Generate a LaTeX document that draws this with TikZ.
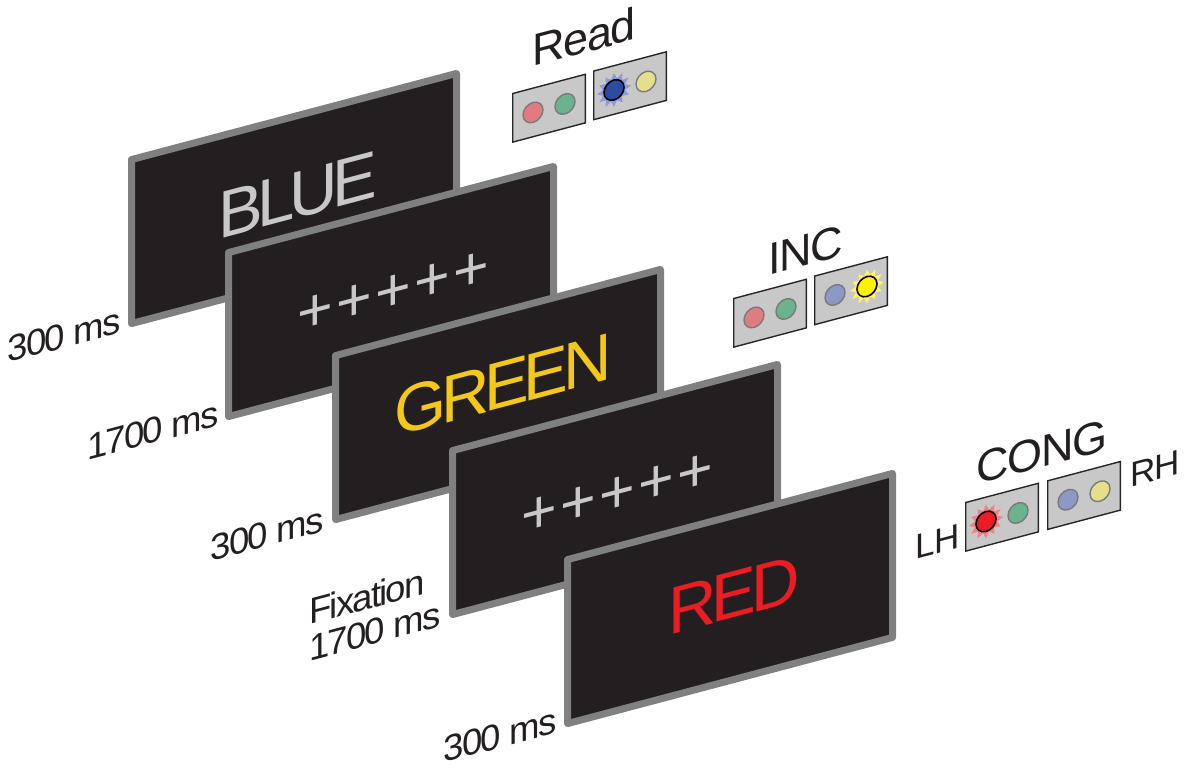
\documentclass[tikz,border=0pt]{standalone}
\usepackage{fontspec}
\setmainfont{Liberation Sans}
\newfontfamily\wordfont[LetterSpace=-8]{Liberation Sans}
\newfontfamily\labelfont[LetterSpace=-5]{Liberation Sans}
\newfontfamily\titlefont[LetterSpace=-3]{Liberation Sans}
\usetikzlibrary{shapes.geometric}
\definecolor{scr}{HTML}{231F20}
\definecolor{scrborder}{HTML}{808080}
\definecolor{wordgray}{HTML}{C8C8C8}
\definecolor{wordyellow}{HTML}{F3C81A}
\definecolor{wordred}{HTML}{ED1C24}
\definecolor{ink}{HTML}{231F20}
\definecolor{panel}{HTML}{C8C8C8}
\definecolor{btnred}{HTML}{E07C80}
\definecolor{btngreen}{HTML}{6CB28E}
\definecolor{btnblue}{HTML}{8E98C4}
\definecolor{btnyellow}{HTML}{E5DF8B}
\definecolor{litblue}{HTML}{2B4CA0}
\definecolor{lityellow}{HTML}{FFF200}
\definecolor{litred}{HTML}{ED1C24}
\definecolor{glowblue}{HTML}{8C9BD6}
\definecolor{glowyellow}{HTML}{FFF36B}
\definecolor{glowred}{HTML}{F28088}
\definecolor{btnedge}{HTML}{7A7A7A}
\begin{document}
\begin{tikzpicture}[x=0.5pt,y=-0.5pt,
  screenbox/.style={draw=scrborder, fill=scr, line width=3.5pt, line join=round,
    minimum width=162.5pt, minimum height=82pt, inner sep=0pt, transform shape},
  word/.style={font=\wordfont\fontsize{33.5}{40}\selectfont, anchor=base, inner sep=0pt, transform shape},
  plusrow/.style={font=\fontsize{30.5}{36}\selectfont, text=wordgray, anchor=base, inner sep=0pt, transform shape},
  dur/.style={font=\labelfont\fontsize{18.3}{18}\selectfont, text=ink, anchor=base east, inner sep=0pt, transform shape},
  ttl/.style={font=\titlefont\fontsize{22.5}{26}\selectfont, text=ink, anchor=base, inner sep=0pt, transform shape},
  hand/.style={font=\titlefont\fontsize{17.5}{20}\selectfont, text=ink, inner sep=0pt, transform shape},
  pbox/.style={draw=black!85, fill=panel, line width=0.7pt, minimum width=36.3pt,
    minimum height=24.3pt, inner sep=0pt, anchor=north west, transform shape},
  btn/.style={circle, draw=btnedge, line width=0.7pt, minimum size=10pt, inner sep=0pt, transform shape},
  litbtn/.style={circle, draw=black, line width=0.8pt, minimum size=10pt, inner sep=0pt, transform shape},
  glow/.style={star, star points=12, star point ratio=1.5, minimum size=17pt, inner sep=0pt, transform shape}
]
\useasboundingbox (0,0) rectangle (1200,778);

% screen 1
\begin{scope}[shift={(128,157)}, yslant=0.265]
  \node[screenbox] (s1) at (166,85.5) {};
  \node[word, text=wordgray] (w1) at (170,106) {BLUE};
  \node[dur] (d1) at (-7,174) {300 ms};
\end{scope}
% screen 2
\begin{scope}[shift={(225,250)}, yslant=0.265]
  \node[screenbox] (s2) at (166,85.5) {};
  \node[plusrow] (w2) at (168,105) {+\kern1.7pt+\kern1.7pt+\kern1.7pt+\kern1.7pt+};
  \node[dur] (d2) at (-6,174) {1700 ms};
\end{scope}
% screen 3
\begin{scope}[shift={(332,353)}, yslant=0.265]
  \node[screenbox] (s3) at (166,85.5) {};
  \node[word, text=wordyellow] (w3) at (171,100) {GREEN};
  \node[dur] (d3) at (-8,176) {300 ms};
\end{scope}
% screen 4
\begin{scope}[shift={(449,448)}, yslant=0.265]
  \node[screenbox] (s4) at (166,85.5) {};
  \node[plusrow] (w4) at (168,109) {+\kern1.7pt+\kern1.7pt+\kern1.7pt+\kern1.7pt+};
  \node[dur] (d4) at (-8,176) {\begin{tabular}[b]{@{}l@{}}Fixation\\1700 ms\end{tabular}};
\end{scope}
% screen 5
\begin{scope}[shift={(564,557)}, yslant=0.265]
  \node[screenbox] (s5) at (166,85.5) {};
  \node[word, text=wordred] (w5) at (170,106) {RED};
  \node[dur] (d5) at (-7,174) {300 ms};
\end{scope}

% Read panel
\begin{scope}[shift={(512,93)}, yslant=0.265]
  \node[pbox] (ra) at (0,0) {};
  \node[pbox] (rb) at (81,-1) {};
  \node[btn, fill=btnred] (ra1) at (21,25) {};
  \node[btn, fill=btngreen] (ra2) at (53,25) {};
  \node[glow, fill=glowblue] (rg) at (102,24) {};
  \node[litbtn, fill=litblue] (rb1) at (102,24) {};
  \node[btn, fill=btnyellow] (rb2) at (134,24) {};
  \node[ttl] (rt) at (72,-21) {Read};
\end{scope}

% INC panel
\begin{scope}[shift={(733,298)}, yslant=0.265]
  \node[pbox] (ia) at (0,0) {};
  \node[pbox] (ib) at (81,-1) {};
  \node[btn, fill=btnred] (ia1) at (21,25) {};
  \node[btn, fill=btngreen] (ia2) at (53,25) {};
  \node[btn, fill=btnblue] (ib1) at (102,24) {};
  \node[glow, fill=glowyellow] (ig) at (134,24) {};
  \node[litbtn, fill=lityellow] (ib2) at (134,24) {};
  \node[ttl] (it) at (73,-13) {INC};
\end{scope}

% CONG panel
\begin{scope}[shift={(965,502)}, yslant=0.265]
  \node[pbox] (ca) at (0,0) {};
  \node[pbox] (cb) at (82,0) {};
  \node[glow, fill=glowred] (cg) at (21,25) {};
  \node[litbtn, fill=litred] (ca1) at (21,25) {};
  \node[btn, fill=btngreen] (ca2) at (53,25) {};
  \node[btn, fill=btnblue] (cb1) at (103,25) {};
  \node[btn, fill=btnyellow] (cb2) at (135,25) {};
  \node[ttl] (ct) at (77,-14) {CONG};
  \node[hand, anchor=base east] (lh) at (-5,44) {LH};
  \node[hand, anchor=base west] (rh) at (165,29) {RH};
\end{scope}
\end{tikzpicture}
\end{document}
